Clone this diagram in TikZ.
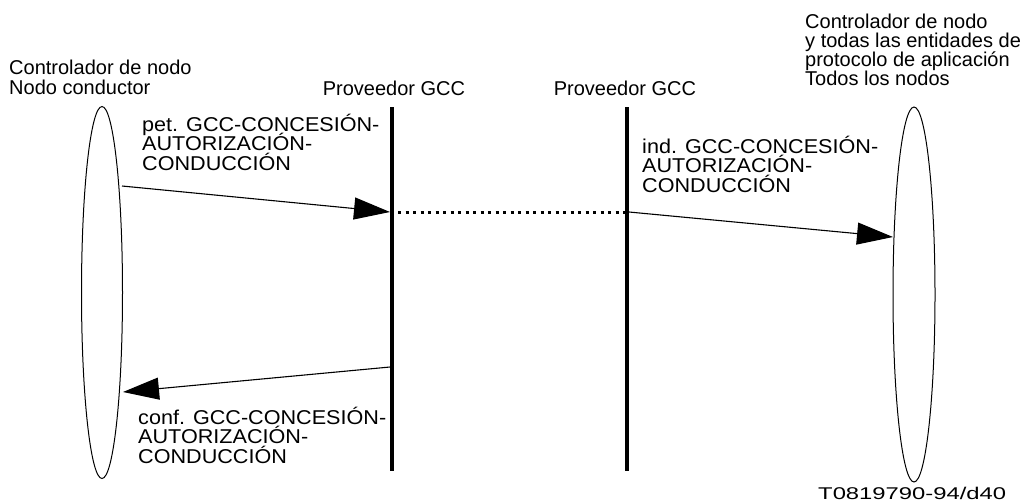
\documentclass[tikz,border=0pt]{standalone}
\usepackage{fontspec}
\setmainfont{Liberation Sans}
\newfontfamily\msgfont[FakeStretch=1.08]{Liberation Sans}
\usetikzlibrary{shapes.geometric,arrows.meta}
\newcommand\tightls{\lineskiplimit -30pt\relax}
\begin{document}
\begin{tikzpicture}[x=1pt,y=-1pt,
  lbl/.style={align=left, inner sep=0pt, font=\fontsize{20}{19}\selectfont\tightls},
  msglbl/.style={align=left, inner sep=0pt, font=\msgfont\fontsize{20}{19.2}\selectfont\tightls},
  lifeline/.style={line width=4.5pt},
  msg/.style={line width=1.1pt, -{Triangle[length=36pt,width=22pt]}},
  actor/.style={ellipse, draw, line width=1pt, inner sep=0pt},
  dotline/.style={line width=3pt, dash pattern=on 3pt off 4.5pt}
]
\useasboundingbox (0,0) rectangle (1024,501);
% actors
\node[actor, minimum width=41pt, minimum height=372pt] (L) at (102,292.5) {};
\node[actor, minimum width=42pt, minimum height=375pt] (R) at (914,294.5) {};
% lifelines
\coordinate (P1t) at (392,107);
\coordinate (P1b) at (392,471);
\coordinate (P2t) at (627,107);
\coordinate (P2b) at (627,471);
\draw[lifeline] (P1t) -- (P1b);
\draw[lifeline] (P2t) -- (P2b);
% message endpoints
\coordinate (m1s) at (122,186);
\coordinate (m1e) at (390,212);
\coordinate (d1) at (398,212);
\coordinate (d2) at (625,212);
\coordinate (m2s) at (629,212);
\coordinate (m2e) at (893,237);
\coordinate (m3s) at (390,367);
\coordinate (m3e) at (123,392);
\draw[msg] (m1s) -- (m1e);
\draw[dotline] (d1) -- (d2);
\draw[msg] (m2s) -- (m2e);
\draw[msg] (m3s) -- (m3e);
% labels (anchor base = baseline of the last line)
\node[lbl, font=\fontsize{20}{20}\selectfont\tightls, anchor=base west] (tl) at (9,94) {Controlador de nodo\\Nodo conductor};
\node[lbl, anchor=base west] (tr) at (805,85) {Controlador de nodo\\y todas las entidades de\\protocolo de aplicación\\Todos los nodos};
\node[lbl, anchor=base] (p1) at (394,95) {Proveedor GCC};
\node[lbl, anchor=base] (p2) at (625,95) {Proveedor GCC};
\node[msglbl, anchor=base west] (t1) at (142,170) {pet. GCC-CONCESIÓN-\\AUTORIZACIÓN-\\CONDUCCIÓN};
\node[msglbl, anchor=base west] (t2) at (642,192) {ind. GCC-CONCESIÓN-\\AUTORIZACIÓN-\\CONDUCCIÓN};
\node[msglbl, anchor=base west] (t3) at (138,463) {conf. GCC-CONCESIÓN-\\AUTORIZACIÓN-\\CONDUCCIÓN};
\node[inner sep=0pt, anchor=base west, font=\fontsize{17}{19}\selectfont] (code) at (818,499) {\scalebox{1.4}[1]{T0819790-94/d40}};
\end{tikzpicture}
\end{document}
